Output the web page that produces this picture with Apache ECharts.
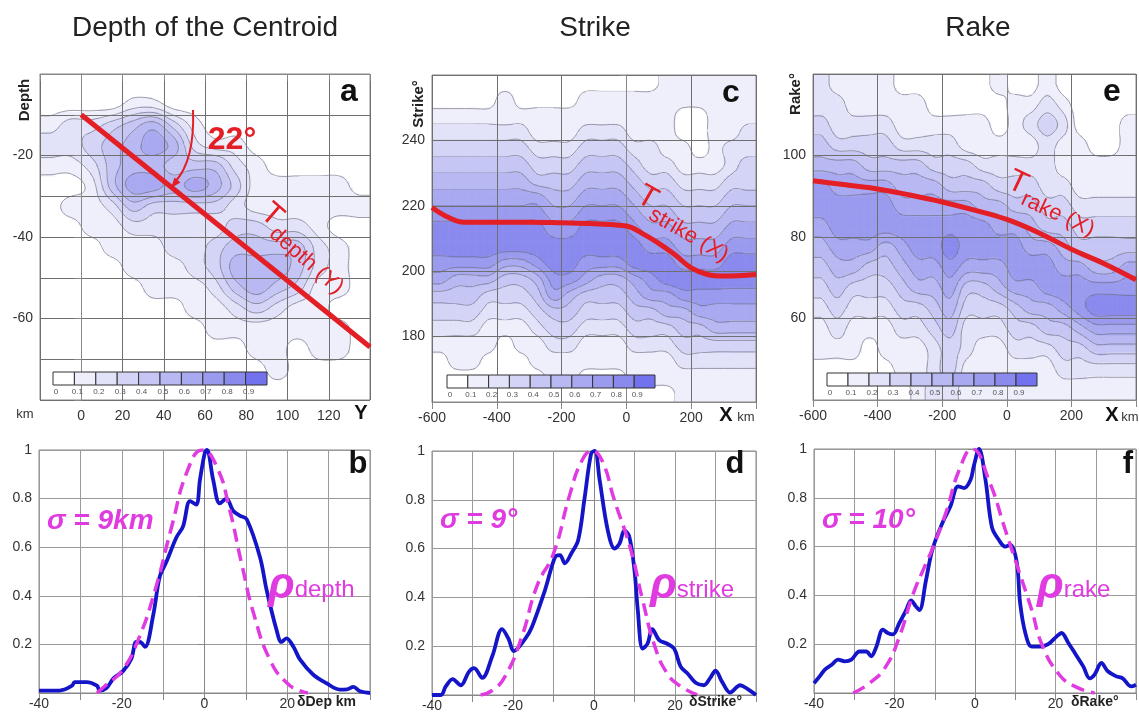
<!DOCTYPE html>
<html lang="en">
<head>
<meta charset="UTF-8">
<title>Depth of the Centroid / Strike / Rake</title>
<script src="https://cdn.jsdelivr.net/npm/echarts@6/dist/echarts.min.js"></script>
<style>
  html, body { margin: 0; padding: 0; background: #fff; }
  #chart { width: 1139px; height: 717px; }
</style>
</head>
<body>
<div id="chart"></div>
<script>
// ---------- top row: density maps (levels 0..9 = 0 .. 0.9) ----------
// panel a: rows from y=-2.5 (top) down to y=-77.5, one digit per column
const depthCellX = [-15, -5, 5, 15, 25, 35, 45, 55, 65, 75, 85, 95, 105, 115, 125, 135];
const depthCellY = [-2.5, -7.5, -12.5, -17.5, -22.5, -27.5, -32.5, -37.5, -42.5, -47.5, -52.5, -57.5, -62.5, -67.5, -72.5, -77.5];
const depthRows = [
  '0000000000000000',
  '0000110000000000',
  '1223453100000000',
  '2234565211000000',
  '1124554442100000',
  '0014665653111110',
  '0112433332111111',
  '0011222223322100',
  '0001112234444210',
  '0000111235554210',
  '0000011124543110',
  '0000000112321100',
  '0000000011111110',
  '0000000000110110',
  '0000000000010000',
  '0000000000000000'
];

// panel c: one string per column (x), top (257.5) to bottom (162.5)
const strikeCellX = [-575, -525, -475, -425, -375, -325, -275, -225, -175, -125, -75, -25, 25, 75, 125, 175, 225, 275, 325, 375];
const strikeCellY = [257.5, 252.5, 247.5, 242.5, 237.5, 232.5, 227.5, 222.5, 217.5, 212.5, 207.5, 202.5, 197.5, 192.5, 187.5, 182.5, 177.5, 172.5, 167.5, 162.5];
const strikeCols = [
  '00123456788764321000',
  '00123456788754321100',
  '00123456788754321100',
  '00123456788753211000',
  '01123456788643210000',
  '00123456788643211000',
  '00112346788754321100',
  '00112345678876432110',
  '00112345678875432110',
  '01123456788764321100',
  '01123456788754321100',
  '01123456788754321100',
  '01112345678865432110',
  '01112234567876432110',
  '11111234567886532110',
  '11001123456787543211',
  '11000123456787643211',
  '11111123456787653211',
  '11112234567887653211',
  '11122334567887653211'
];

// panel e: one string per column (x), top (117.5) to bottom (42.5)
const rakeCellX = strikeCellX;
const rakeCellY = [117.5, 112.5, 107.5, 102.5, 97.5, 92.5, 87.5, 82.5, 77.5, 72.5, 67.5, 62.5, 57.5, 52.5, 47.5, 42.5];
const rakeCols = [
  '2234577654321100',
  '1223567765432100',
  '1123567765321100',
  '1123467764321000',
  '1123467754321100',
  '0112456765432110',
  '0112456776532111',
  '0012356776543222',
  '0012346787654332',
  '0011346776432211',
  '0011245776432111',
  '1001235676532111',
  '0111234677643211',
  '0121234567653211',
  '1232223467754211',
  '0121123456764321',
  '0001112346775321',
  '0000112345786421',
  '0000112345786421',
  '0011112346786421'
];

// red trend lines
const tDepthX = [0, 140];
const tDepthY = [-10, -67];
const tStrikeX = [-600, -550, -500, -400, -300, -200, -100, 0, 50, 100, 150, 200, 250, 300, 400];
const tStrikeY = [219.5, 216.5, 215, 215, 215, 214.8, 214.5, 213.8, 211.5, 208.5, 205, 201, 199, 198.5, 199];
const tRakeX = [-600, -500, -400, -300, -200, -100, 0, 100, 200, 300, 400];
const tRakeY = [93.8, 92.8, 91.8, 90.3, 88.6, 86.6, 84.3, 81, 77, 73.5, 69.5];

// ---------- bottom row: normalised profiles ----------
const depthProfX = [-40, -35, -32, -31.4, -28.5, -26, -25.3, -23.7, -22, -19.7, -17.7, -16.5, -15.6, -14.4, -12.4, -10.8, -9.2, -6.8, -5.2, -3.5, -2, -1.1, 0.1, 0.6, 2.1, 3.7, 5.3, 6.9, 8.5, 10.2, 13.4, 15, 17.4, 18.6, 19.8, 21.5, 23.1, 26.3, 29.5, 32.7, 34.4, 36, 37.6, 40];
const depthProfY = [0.01, 0.01, 0.03, 0.045, 0.045, 0.03, 0.01, 0.02, 0.06, 0.09, 0.14, 0.21, 0.21, 0.19, 0.32, 0.48, 0.54, 0.64, 0.685, 0.79, 0.775, 0.877, 0.99, 1.0, 0.877, 0.78, 0.8, 0.75, 0.73, 0.715, 0.56, 0.425, 0.26, 0.21, 0.225, 0.19, 0.137, 0.075, 0.04, 0.014, 0.015, 0.025, 0.007, 0];
const depthFitX = [-26, -24, -20, -16, -12, -8, -4, -0.5, 3, 6, 9, 12, 16, 20, 23, 25];
const depthFitY = [0, 0.03, 0.09, 0.22, 0.42, 0.68, 0.92, 1, 0.93, 0.76, 0.53, 0.32, 0.13, 0.04, 0.01, 0];

const strikeProfX = [-40, -37.8, -36.6, -34.9, -32.9, -30.9, -29.6, -27.6, -25.1, -22.7, -21.1, -19.8, -17, -15.3, -12.1, -9.6, -8.4, -7.2, -5.6, -3.9, -2.3, -0.7, 0.2, 1.4, 3.4, 5.1, 6.3, 7.5, 8.7, 10, 10.8, 12, 13.2, 14.4, 16.1, 18.1, 19.8, 21.4, 23, 25.1, 27.1, 28.7, 30, 31.6, 33.6, 36.1, 37.7, 40];
const strikeProfY = [0, 0, 0.035, 0.065, 0.04, 0.095, 0.11, 0.07, 0.16, 0.27, 0.23, 0.18, 0.23, 0.28, 0.43, 0.566, 0.573, 0.54, 0.58, 0.635, 0.81, 0.99, 1.0, 0.88, 0.675, 0.6, 0.62, 0.675, 0.65, 0.51, 0.35, 0.19, 0.21, 0.27, 0.225, 0.21, 0.19, 0.116, 0.09, 0.05, 0.04, 0.07, 0.1, 0.055, 0.01, 0.04, 0.027, 0];
const strikeFitX = [-28, -25, -22, -18, -14, -10, -6, -3, -0.5, 2, 5, 9, 12, 15, 18, 21, 25.5];
const strikeFitY = [0, 0.02, 0.075, 0.23, 0.45, 0.58, 0.82, 0.96, 1, 0.96, 0.8, 0.6, 0.39, 0.2, 0.09, 0.04, 0];

const rakeProfX = [-40, -38.5, -37.3, -35.6, -34, -32.4, -30.7, -28.7, -27, -25.8, -24.5, -22.9, -21.7, -20.4, -18.8, -17.1, -15.9, -14.7, -13.8, -12.2, -10.6, -8.1, -6.1, -4.2, -2.7, -1.1, -0.3, 1, 2.6, 4.2, 5.9, 7.5, 8.8, 10.4, 11.2, 12.5, 14.1, 16.2, 18.2, 20.3, 21.5, 23.2, 24.8, 26.9, 28.5, 29.7, 31.4, 33, 35.1, 36.7, 38.8, 40];
const rakeProfY = [0.04, 0.07, 0.096, 0.116, 0.137, 0.13, 0.137, 0.17, 0.17, 0.15, 0.19, 0.26, 0.246, 0.24, 0.287, 0.34, 0.38, 0.355, 0.34, 0.46, 0.587, 0.697, 0.765, 0.847, 0.84, 0.874, 0.93, 1.0, 0.874, 0.68, 0.628, 0.6, 0.607, 0.533, 0.37, 0.246, 0.19, 0.19, 0.2, 0.232, 0.246, 0.205, 0.164, 0.109, 0.06, 0.075, 0.123, 0.089, 0.068, 0.06, 0.027, 0.034];
const rakeFitX = [-30.3, -26.2, -22.1, -18.8, -15.5, -12.2, -10.6, -7.2, -3.9, -0.7, 3.4, 7.5, 10.8, 14.1, 16.6, 20.7, 24.8, 29.7];
const rakeFitY = [0, 0.04, 0.11, 0.23, 0.4, 0.53, 0.59, 0.74, 0.915, 1, 0.874, 0.67, 0.505, 0.34, 0.2, 0.08, 0.027, 0];

// ---------- styles ----------
const levelColors = ['#ffffff', '#efeffc', '#e2e2f9', '#d4d4f7', '#c6c6f5', '#b8b8f3', '#a9a9f1', '#9a9aef', '#8a8aee', '#7272ee'];
const legendLabels = ['0', '0.1', '0.2', '0.3', '0.4', '0.5', '0.6', '0.7', '0.8', '0.9'];
const RED = '#e31e24';
const BLUE = '#1414c8';
const MAGENTA = '#e03be0';
const FONT = 'Liberation Sans, Arial, sans-serif';

const zip = (xs, ys) => xs.map((x, i) => [x, ys[i]]);

// field of levels on the cell centres; items are [x, y, level, i, j]
function makeField(xs, ys, levelAt) {
  const v = ys.map((y, j) => xs.map((x, i) => levelAt(i, j) + 0.5));
  const data = [];
  ys.forEach((y, j) => xs.forEach((x, i) => data.push([x, y, levelAt(i, j), i, j])));
  return { xs, ys, v, nx: xs.length, ny: ys.length, data };
}
const depthField = makeField(depthCellX, depthCellY, (i, j) => +depthRows[j][i]);
const strikeField = makeField(strikeCellX, strikeCellY, (i, j) => +strikeCols[i][j]);
const rakeField = makeField(rakeCellX, rakeCellY, (i, j) => +rakeCols[i][j]);

// Catmull-Rom surface through the cell values, used only to draw smooth contours
function cr(p0, p1, p2, p3, t) {
  return 0.5 * (2 * p1 + (p2 - p0) * t + (2 * p0 - 5 * p1 + 4 * p2 - p3) * t * t + (3 * p1 - p0 - 3 * p2 + p3) * t * t * t);
}
function sample(F, u, w) {
  u = Math.max(0, Math.min(F.nx - 1, u));
  w = Math.max(0, Math.min(F.ny - 1, w));
  const i1 = Math.min(Math.floor(u), F.nx - 2), j1 = Math.min(Math.floor(w), F.ny - 2);
  const fu = u - i1, fw = w - j1;
  const ci = k => Math.max(0, Math.min(F.nx - 1, k));
  const cj = k => Math.max(0, Math.min(F.ny - 1, k));
  const rows = [];
  for (let d = -1; d <= 2; d++) {
    const r = F.v[cj(j1 + d)];
    rows.push(cr(r[ci(i1 - 1)], r[ci(i1)], r[ci(i1 + 1)], r[ci(i1 + 2)], fu));
  }
  const val = cr(rows[0], rows[1], rows[2], rows[3], fw);
  return Math.max(0, Math.min(9.45, val));
}

// filled contour bands + contour lines drawn cell by cell
function contourRenderer(F, S) {
  const dx = F.xs[1] - F.xs[0], dy = F.ys[1] - F.ys[0];
  return function (params, api) {
    const i = api.value(3), j = api.value(4);
    const p0 = api.coord([F.xs[i] - dx / 2, F.ys[j] - dy / 2]);
    const p1 = api.coord([F.xs[i] + dx / 2, F.ys[j] + dy / 2]);
    const g = [];
    for (let b = 0; b <= S; b++) {
      const row = [];
      for (let a = 0; a <= S; a++) row.push(sample(F, i - 0.5 + a / S, j - 0.5 + b / S));
      g.push(row);
    }
    const px = a => p0[0] + (p1[0] - p0[0]) * a / S;
    const py = b => p0[1] + (p1[1] - p0[1]) * b / S;
    const children = [];
    let path = '';
    for (let b = 0; b < S; b++) {
      for (let a = 0; a < S; a++) {
        const c = [g[b][a], g[b][a + 1], g[b + 1][a + 1], g[b + 1][a]];
        const pts = [[px(a), py(b)], [px(a + 1), py(b)], [px(a + 1), py(b + 1)], [px(a), py(b + 1)]];
        const m = (c[0] + c[1] + c[2] + c[3]) / 4;
        const band = Math.max(0, Math.min(9, Math.floor(m)));
        if (band > 0) {
          children.push({
            type: 'rect',
            shape: { x: Math.min(pts[0][0], pts[2][0]), y: Math.min(pts[0][1], pts[2][1]),
                     width: Math.abs(pts[2][0] - pts[0][0]) + 0.6, height: Math.abs(pts[2][1] - pts[0][1]) + 0.6 },
            style: { fill: levelColors[band] }
          });
        }
        const lo = Math.min(c[0], c[1], c[2], c[3]), hi = Math.max(c[0], c[1], c[2], c[3]);
        for (let t = Math.max(1, Math.ceil(lo)); t <= Math.min(9, hi); t++) {
          const up = c.map(val => val >= t);
          const cross = [];
          for (let e = 0; e < 4; e++) {
            const k = (e + 1) % 4;
            if (up[e] !== up[k]) {
              const f = (t - c[e]) / (c[k] - c[e]);
              cross.push({ e, p: [pts[e][0] + (pts[k][0] - pts[e][0]) * f, pts[e][1] + (pts[k][1] - pts[e][1]) * f] });
            }
          }
          const seg = (q, r) => { path += 'M' + q.p[0].toFixed(1) + ' ' + q.p[1].toFixed(1) + 'L' + r.p[0].toFixed(1) + ' ' + r.p[1].toFixed(1); };
          if (cross.length === 2) seg(cross[0], cross[1]);
          else if (cross.length === 4) {
            if ((m >= t) === up[0]) { seg(cross[0], cross[1]); seg(cross[2], cross[3]); }
            else { seg(cross[3], cross[0]); seg(cross[1], cross[2]); }
          }
        }
      }
    }
    if (path) {
      children.push({ type: 'path', shape: { pathData: path },
                      style: { stroke: '#6e6e80', lineWidth: 0.8, fill: null, opacity: 0.85 } });
    }
    return { type: 'group', children };
  };
}

function axis(gridIndex, min, max, interval, fmt, gridColor, margin) {
  return {
    type: 'value', gridIndex, min, max, interval,
    axisLine: { show: true, lineStyle: { color: '#888', width: 1 } },
    axisTick: { show: true, length: 7, lineStyle: { color: '#888' } },
    splitLine: { show: true, lineStyle: { color: gridColor, width: 1 } },
    axisLabel: { formatter: fmt, color: '#333', fontSize: 14, fontFamily: FONT, margin: margin }
  };
}

const grids = [
  { left: 40, top: 74, width: 330, height: 326 },
  { left: 432, top: 75, width: 324, height: 327 },
  { left: 813, top: 74, width: 325, height: 326 },
  { left: 39, top: 450, width: 331, height: 243 },
  { left: 432, top: 451, width: 324, height: 244 },
  { left: 814, top: 449, width: 324, height: 244 }
].map(g => Object.assign({ show: true, borderColor: '#888', borderWidth: 1, backgroundColor: 'transparent' }, g));

const fmtA_x = v => (v >= 0 && v <= 120) ? String(v) : '';
const fmtA_y = v => (v % 20 === 0 && v > -80 && v < 0) ? String(v) : '';
const fmtX_km = v => (v < 400) ? String(v) : '';
const fmtC_y = v => (v > 160 && v < 260) ? String(v) : '';
const fmtE_y = v => (v > 40 && v < 120) ? String(v) : '';
const fmtB_x = v => (v % 20 === 0 && v < 40) ? String(v) : '';
const fmtB_y = v => v === 0 ? '' : (Math.abs(v - 1) < 1e-9 ? '1' : v.toFixed(1));

const xAxes = [
  axis(0, -20, 140, 20, fmtA_x, '#6f6f6f', 9),
  axis(1, -600, 400, 200, fmtX_km, '#6f6f6f', 9),
  axis(2, -600, 400, 200, fmtX_km, '#6f6f6f', 9),
  axis(3, -40, 40, 10, fmtB_x, '#9a9a9a', 4),
  axis(4, -40, 40, 10, fmtB_x, '#9a9a9a', 4),
  axis(5, -40, 40, 10, fmtB_x, '#9a9a9a', 4)
];
const yAxes = [
  axis(0, -80, 0, 10, fmtA_y, '#6f6f6f', 7),
  axis(1, 160, 260, 20, fmtC_y, '#6f6f6f', 7),
  axis(2, 40, 120, 20, fmtE_y, '#6f6f6f', 7),
  axis(3, 0, 1, 0.2, fmtB_y, '#9a9a9a', 7),
  axis(4, 0, 1, 0.2, fmtB_y, '#9a9a9a', 7),
  axis(5, 0, 1, 0.2, fmtB_y, '#9a9a9a', 7)
];

function heat(idx, F, S) {
  return {
    type: 'custom', xAxisIndex: idx, yAxisIndex: idx, z: -1, silent: true, clip: true,
    encode: { x: 0, y: 1 }, renderItem: contourRenderer(F, S), data: F.data
  };
}
function redLine(idx, data) {
  return {
    type: 'line', xAxisIndex: idx, yAxisIndex: idx, data: data, smooth: 0.4,
    showSymbol: false, silent: true, lineStyle: { color: RED, width: 5 }, z: 5
  };
}
function profile(idx, data) {
  return {
    type: 'line', xAxisIndex: idx, yAxisIndex: idx, data: data, smooth: 0.35,
    showSymbol: false, silent: true, lineStyle: { color: BLUE, width: 3.8 }
  };
}
function fit(idx, data) {
  return {
    type: 'line', xAxisIndex: idx, yAxisIndex: idx, data: data, smooth: 0.5,
    showSymbol: false, silent: true, z: 3,
    lineStyle: { color: MAGENTA, width: 3.5, type: [13, 7] }
  };
}

const series = [
  heat(0, depthField, 7),
  heat(1, strikeField, 6),
  heat(2, rakeField, 6),
  redLine(0, zip(tDepthX, tDepthY)),
  redLine(1, zip(tStrikeX, tStrikeY)),
  redLine(2, zip(tRakeX, tRakeY)),
  profile(3, zip(depthProfX, depthProfY)),
  profile(4, zip(strikeProfX, strikeProfY)),
  profile(5, zip(rakeProfX, rakeProfY)),
  fit(3, zip(depthFitX, depthFitY)),
  fit(4, zip(strikeFitX, strikeFitY)),
  fit(5, zip(rakeFitX, rakeFitY))
];

// ---------- text and annotations ----------
function txt(text, x, y, font, fill, align, extra) {
  return Object.assign({
    type: 'text', x: x, y: y, z: 100,
    style: { text: text, font: font, fill: fill || '#222', align: align || 'center', verticalAlign: 'middle',
             textAlign: align || 'center', textVerticalAlign: 'middle' }
  }, extra || {});
}

function legendBar(x0, y0, w, h) {
  const els = [];
  levelColors.forEach((c, i) => {
    els.push({ type: 'rect', z: 90, shape: { x: x0 + i * w, y: y0, width: w, height: h },
               style: { fill: c, stroke: '#333', lineWidth: 1 } });
    els.push(txt(legendLabels[i], x0 + i * w + 3, y0 + h + 7, '8px ' + FONT, '#555', 'center'));
  });
  return els;
}

function tLabel(sub, x, y, angle) {
  return {
    type: 'text', x: x, y: y, rotation: -angle * Math.PI / 180, z: 100,
    style: {
      text: '{t|T}{s|' + sub + '}', align: 'center', verticalAlign: 'middle',
      textAlign: 'center', textVerticalAlign: 'middle',
      rich: {
        t: { fontSize: 31, fontFamily: FONT, fill: RED, verticalAlign: 'top', lineHeight: 30 },
        s: { fontSize: 22, fontFamily: FONT, fill: RED, verticalAlign: 'bottom', lineHeight: 38, padding: [12, 0, 0, 1] }
      }
    }
  };
}

function rhoLabel(sub, x, y) {
  return {
    type: 'text', x: x, y: y, z: 100,
    style: {
      text: '{r|ρ}{s|' + sub + '}', align: 'left', verticalAlign: 'middle',
      textAlign: 'left', textVerticalAlign: 'middle',
      rich: {
        r: { fontSize: 44, fontWeight: 'bold', fontStyle: 'italic', fontFamily: FONT, fill: MAGENTA },
        s: { fontSize: 24, fontFamily: FONT, fill: MAGENTA, padding: [8, 0, 0, 0] }
      }
    }
  };
}

const rot90 = { rotation: Math.PI / 2 };
const graphic = [
  txt('Depth of the Centroid', 205, 28, '28px ' + FONT, '#222'),
  txt('Strike', 595, 28, '28px ' + FONT, '#222'),
  txt('Rake', 978, 28, '28px ' + FONT, '#222'),

  txt('a', 349, 92, 'bold 32px ' + FONT, '#111'),
  txt('c', 731, 93, 'bold 32px ' + FONT, '#111'),
  txt('e', 1112, 92, 'bold 32px ' + FONT, '#111'),
  txt('b', 358, 464, 'bold 31px ' + FONT, '#111'),
  txt('d', 735, 464, 'bold 31px ' + FONT, '#111'),
  txt('f', 1128, 464, 'bold 31px ' + FONT, '#111'),

  txt('Depth', 25, 100, 'bold 15px ' + FONT, '#222', 'center', rot90),
  txt('Strike°', 419, 104, 'bold 15px ' + FONT, '#222', 'center', rot90),
  txt('Rake°', 796, 94, 'bold 15px ' + FONT, '#222', 'center', rot90),

  txt('km', 25, 414, '13px ' + FONT, '#333'),
  txt('Y', 361, 413, 'bold 20px ' + FONT, '#111'),
  txt('X', 726, 415, 'bold 20px ' + FONT, '#111'),
  txt('km', 746, 417, '13px ' + FONT, '#333'),
  txt('X', 1112, 415, 'bold 20px ' + FONT, '#111'),
  txt('km', 1130, 417, '13px ' + FONT, '#333'),

  txt('δDep km', 297, 702, 'bold 14px ' + FONT, '#222', 'left'),
  txt('δStrike°', 689, 702, 'bold 14px ' + FONT, '#222', 'left'),
  txt('δRake°', 1071, 702, 'bold 14px ' + FONT, '#222', 'left'),

  txt('σ = 9km', 47, 521, 'italic bold 28px ' + FONT, MAGENTA, 'left'),
  txt('σ = 9°', 440, 520, 'italic bold 28px ' + FONT, MAGENTA, 'left'),
  txt('σ = 10°', 822, 520, 'italic bold 28px ' + FONT, MAGENTA, 'left'),
  rhoLabel('depth', 268, 586),
  rhoLabel('strike', 650, 586),
  rhoLabel('rake', 1037, 586),

  tLabel('depth (Y)', 304, 248, 41),
  tLabel('strike (X)', 684, 223, 30),
  tLabel('rake (X)', 1052, 203, 25),

  txt('22°', 232, 140, 'bold 32px ' + FONT, RED),
  { type: 'bezierCurve', z: 100, shape: { x1: 193, y1: 110, cpx1: 195, cpy1: 160, x2: 175, y2: 182 },
    style: { stroke: RED, lineWidth: 2, fill: null } },
  { type: 'polygon', z: 100, shape: { points: [[171, 188], [180.5, 182.5], [174.5, 177.5]] },
    style: { fill: RED } }
]
  .concat(legendBar(53, 372, 21.4, 13))
  .concat(legendBar(447, 375, 20.8, 13))
  .concat(legendBar(827, 373, 21, 13));

const chart = echarts.init(document.getElementById('chart'), null, { renderer: 'canvas' });
chart.setOption({
  backgroundColor: '#ffffff',
  animation: false,
  grid: grids,
  xAxis: xAxes,
  yAxis: yAxes,
  series: series,
  graphic: graphic
});
</script>
</body>
</html>
